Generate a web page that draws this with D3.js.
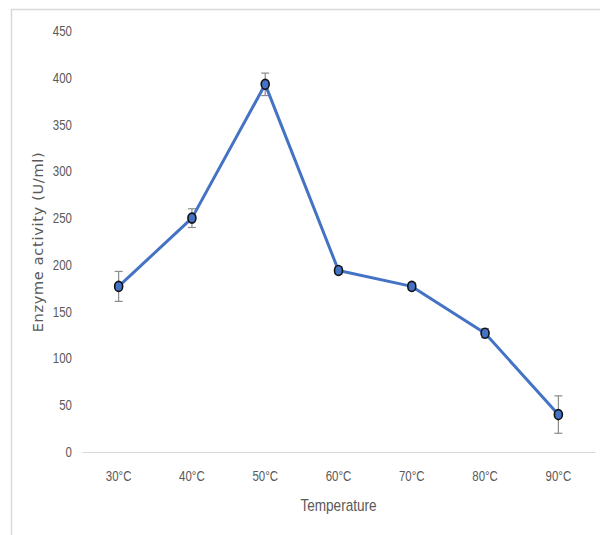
<!DOCTYPE html>
<html>
<head>
<meta charset="utf-8">
<script src="https://cdn.jsdelivr.net/npm/d3@7/dist/d3.min.js"></script>
<style>
  html, body { margin: 0; padding: 0; background: #fff; }
  svg { display: block; }
</style>
</head>
<body>
<svg id="chart" width="600" height="535"></svg>
<script>
// Enzyme activity across incubation temperatures
const temperatures = ["30°C", "40°C", "50°C", "60°C", "70°C", "80°C", "90°C"];
const activity = [177, 250, 393, 194, 177, 127, 40];
const errors = [16, 10, 12, 4, 4, 5, 20];
const yTicks = [0, 50, 100, 150, 200, 250, 300, 350, 400, 450];

const svg = d3.select("#chart");

// outer frame
svg.append("rect")
  .attr("x", 11.5).attr("y", 9.5)
  .attr("width", 700).attr("height", 700)
  .attr("fill", "none")
  .attr("stroke", "#d9d9d9")
  .attr("stroke-width", 1.5);

const x = d3.scaleBand().domain(temperatures).range([82, 595]);
const y = d3.scaleLinear().domain([0, 450]).range([452, 31]);

const font = "'Liberation Sans', Arial, sans-serif";
const squeeze = "scale(0.82,1)";

// y axis labels (no axis line, no gridlines)
const yAxis = svg.append("g")
  .attr("transform", "translate(72,0)")
  .call(d3.axisLeft(y).tickValues(yTicks).tickSize(0).tickPadding(0));
yAxis.select(".domain").remove();
yAxis.selectAll("text")
  .attr("fill", "#595959")
  .attr("transform", squeeze)
  .style("font-family", font)
  .style("font-size", "14px");

// x axis baseline and category labels
const xAxis = svg.append("g")
  .attr("transform", `translate(0,${y(0)})`)
  .call(d3.axisBottom(x).tickSize(0).tickPadding(19));
xAxis.select(".domain").attr("stroke", "#d9d9d9").attr("stroke-width", 1.2);
xAxis.selectAll("text")
  .attr("fill", "#595959")
  .attr("transform", squeeze)
  .style("font-family", font)
  .style("font-size", "14px");

// axis titles
svg.append("g")
  .attr("transform", `translate(${x.range()[0] + (x.range()[1] - x.range()[0]) / 2},511)`)
  .append("text")
  .attr("transform", "scale(0.85,1)")
  .attr("text-anchor", "middle")
  .attr("fill", "#595959")
  .style("font-family", font)
  .style("font-size", "16px")
  .text("Temperature");

svg.append("text")
  .attr("transform", "translate(43,242) rotate(-90)")
  .attr("text-anchor", "middle")
  .attr("fill", "#595959")
  .style("font-family", "'DejaVu Sans', sans-serif")
  .style("font-size", "14.5px")
  .style("letter-spacing", "0.7px")
  .text("Enzyme activity (U/ml)");

const cx = d => x(d) + x.bandwidth() / 2;
const pts = temperatures.map((t, i) => ({ t, v: activity[i], e: errors[i] }));

// error bars
const eb = svg.append("g").attr("stroke", "#8c8c8c").attr("stroke-width", 1.2);
pts.forEach(p => {
  eb.append("line").attr("x1", cx(p.t)).attr("x2", cx(p.t))
    .attr("y1", y(p.v + p.e)).attr("y2", y(p.v - p.e));
  [p.v + p.e, p.v - p.e].forEach(v => {
    eb.append("line").attr("x1", cx(p.t) - 4).attr("x2", cx(p.t) + 4)
      .attr("y1", y(v)).attr("y2", y(v));
  });
});

// series line
svg.append("path")
  .datum(pts)
  .attr("fill", "none")
  .attr("stroke", "#4472C4")
  .attr("stroke-width", 3)
  .attr("stroke-linejoin", "round")
  .attr("d", d3.line().x(d => cx(d.t)).y(d => y(d.v)));

// markers
svg.append("g").selectAll("ellipse")
  .data(pts)
  .join("ellipse")
  .attr("cx", d => cx(d.t))
  .attr("cy", d => y(d.v))
  .attr("rx", 4)
  .attr("ry", 5)
  .attr("fill", "#4472C4")
  .attr("stroke", "#111")
  .attr("stroke-width", 1.6);
</script>
</body>
</html>
